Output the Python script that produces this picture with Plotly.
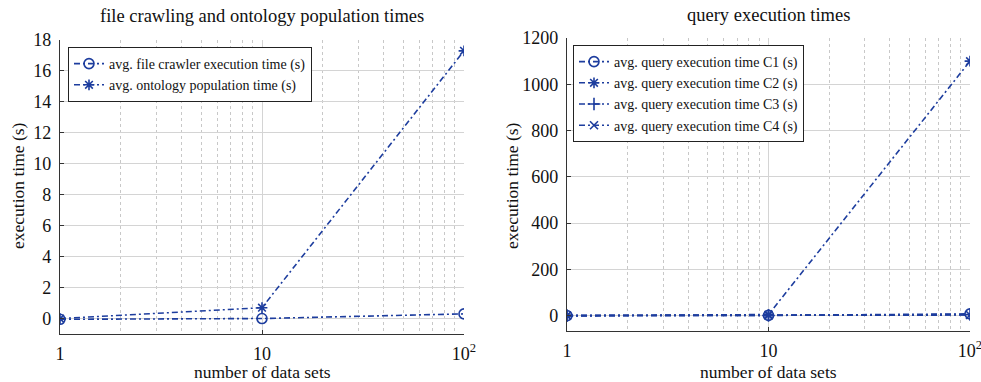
import plotly.graph_objects as go

# ---------------- data ----------------
n_sets = [1, 10, 100]
crawler_time = [-0.05, 0.0, 0.3]
population_time = [0.0, 0.7, 17.3]

query_c1 = [0.5, 1.5, 8]
query_c2 = [0.5, 5, 1100]
query_c3 = [0.3, 1.0, 5]
query_c4 = [0.2, 0.8, 3]

x_tickvals = [1, 10, 100]
x_ticktext = ["1", "10", "10<sup>2</sup>"]
minor_vals = [2, 3, 4, 5, 6, 7, 8, 9, 20, 30, 40, 50, 60, 70, 80, 90]

left_title = "file crawling and ontology population times"
right_title = "query execution times"
x_label = "number of data sets"
y_label = "execution time (s)"

# ---------------- style ----------------
COL = "#1d3d9e"
FONT = "Liberation Serif"
DASH = "6px,3px,2px,3px"

fig = go.Figure()

def add(x, y, name, symbol, xa, ya, legend, msize=9):
    fig.add_trace(go.Scatter(
        x=x, y=y, name=name, mode="lines+markers",
        line=dict(color=COL, width=1.6, dash=DASH),
        marker=dict(symbol=symbol, size=msize, color=COL,
                    line=dict(color=COL, width=1.6)),
        xaxis=xa, yaxis=ya, legend=legend))

add(n_sets, crawler_time, "avg. file crawler execution time (s)", "circle-open", "x", "y", "legend", 10)
add(n_sets, population_time, "avg. ontology population time (s)", "asterisk-open", "x", "y", "legend", 9)

add(n_sets, query_c1, "avg. query execution time C1 (s)", "circle-open", "x2", "y2", "legend2", 10)
add(n_sets, query_c2, "avg. query execution time C2 (s)", "asterisk-open", "x2", "y2", "legend2", 9)
add(n_sets, query_c3, "avg. query execution time C3 (s)", "cross-thin-open", "x2", "y2", "legend2", 9)
add(n_sets, query_c4, "avg. query execution time C4 (s)", "x-thin-open", "x2", "y2", "legend2", 8)

def xaxis(domain, anchor):
    return dict(
        type="log", domain=domain, anchor=anchor, range=[0, 2],
        tickvals=x_tickvals, ticktext=x_ticktext, automargin=False,
        ticklabeloverflow="allow",
        tickfont=dict(family=FONT, size=18, color="#111"),
        showgrid=True, gridcolor="#d4d4d4", gridwidth=1,
        minor=dict(tickvals=minor_vals, showgrid=True, gridcolor="#c8c8c8",
                   griddash="dot", gridwidth=1),
        showline=True, linecolor="#333", linewidth=1.3, mirror=False,
        ticks="inside", ticklen=4, tickcolor="#333",
        zeroline=False, ticklabelstandoff=3,
    )

def yaxis(domain, anchor, rng, dtick):
    return dict(
        domain=domain, anchor=anchor, range=rng, dtick=dtick, tick0=0,
        automargin=False, ticklabeloverflow="allow",
        tickfont=dict(family=FONT, size=18, color="#111"),
        showgrid=True, gridcolor="#d4d4d4", gridwidth=1,
        showline=True, linecolor="#333", linewidth=1.3, mirror=False,
        ticks="inside", ticklen=4, tickcolor="#333",
        zeroline=False, ticklabelstandoff=4,
    )

def txt(text, x, y, size, angle=0):
    return dict(text=text, x=x/981, y=1-y/382, xref="paper", yref="paper",
                showarrow=False, font=dict(family=FONT, size=size, color="#111"),
                xanchor="center", yanchor="middle", textangle=angle)

leg_common = dict(xanchor="left", yanchor="top",
                  bgcolor="white", bordercolor="#222", borderwidth=1,
                  font=dict(family=FONT, size=14, color="#111"),
                  tracegroupgap=0, itemwidth=30)

fig.update_layout(
    width=981, height=382,
    font=dict(family=FONT),
    margin=dict(l=0, r=0, t=0, b=0),
    paper_bgcolor="white", plot_bgcolor="white",
    showlegend=True,
    xaxis=xaxis([60/981, 464/981], "y"),
    yaxis=yaxis([1-334/382, 1-40/382], "x", [-1, 18], 2),
    xaxis2=xaxis([567/981, 970/981], "y2"),
    yaxis2=yaxis([1-331/382, 1-38/382], "x2", [-66, 1200], 200),
    legend=dict(x=68/981, y=1-47/382, **leg_common),
    legend2=dict(x=573/981, y=1-45/382, **leg_common),
    annotations=[
        txt(left_title, 262, 16, 18.5),
        txt(right_title, 768, 15, 18.5),
        txt(x_label, 262, 372, 17.5),
        txt(x_label, 768, 372, 17.5),
        txt(y_label, 18, 186, 17.5, -90),
        txt(y_label, 512, 186, 17.5, -90),
    ],
)

fig.write_html(
    "out.html",
    config={"displayModeBar": False},
    post_script="document.body.style.margin='0';document.body.style.padding='0';"
                "document.body.style.overflow='hidden';",
)
